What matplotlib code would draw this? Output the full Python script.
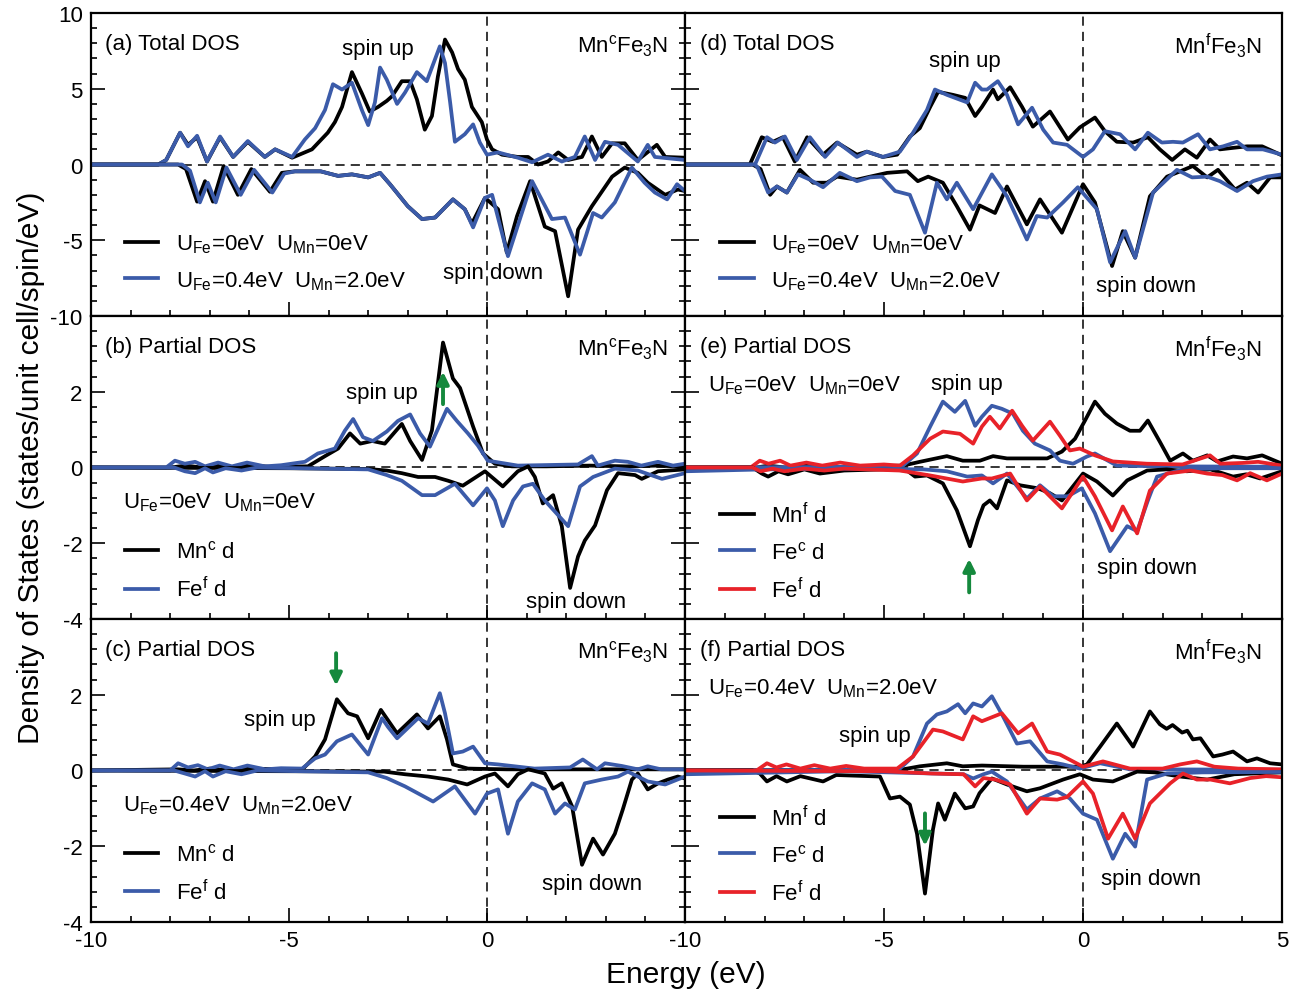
import numpy as np
import matplotlib
matplotlib.use('Agg')
import matplotlib.pyplot as plt
from matplotlib.ticker import MultipleLocator

plt.rcParams['font.family'] = ['Liberation Sans', 'DejaVu Sans']
plt.rcParams['mathtext.fontset'] = 'custom'
plt.rcParams['mathtext.rm'] = 'Liberation Sans'
plt.rcParams['mathtext.it'] = 'Liberation Sans:italic'
plt.rcParams['axes.unicode_minus'] = False

BLK = 'black'
BLU = '#3b5ba9'
RED = '#e82229'
GRN = '#15893d'

# ---- (a) total DOS, Mn^c Fe3N ----
a_up_k = [(-10,0),(-8.3,0),(-8.1,0.3),(-7.75,2.1),(-7.55,1.3),(-7.32,1.8),(-7.07,0.2),(-6.74,1.8),(-6.41,0.5),
          (-6.04,1.5),(-5.61,0.5),(-5.35,1.0),(-4.92,0.45),(-4.42,1.0),(-4.02,2.1),(-3.84,2.8),(-3.66,3.8),(-3.41,6.1),
          (-3.16,4.7),(-2.96,3.5),(-2.75,3.8),(-2.53,4.2),(-2.40,4.5),(-2.15,5.5),(-1.94,5.5),(-1.77,4.3),(-1.57,2.3),
          (-1.39,3.2),(-1.24,5.8),(-1.06,8.25),(-0.88,7.4),(-0.73,6.3),(-0.56,5.6),(-0.38,3.8),(-0.13,2.8),(0,1.65),
          (0.13,1.0),(0.38,0.65),(0.78,0.5),(1.04,0.5),(1.29,0.0),(1.54,0.2),(1.8,0.8),(2.05,0.3),(2.4,0.5),(2.65,1.85),
          (2.9,0.5),(3.16,1.4),(3.48,1.4),(3.81,0.3),(4.29,1.3),(4.5,0.5),(5.0,0.45)]
a_up_b = [(-10,0),(-8.3,0),(-8.1,0.3),(-7.75,2.1),(-7.55,1.2),(-7.32,1.9),(-7.07,0.2),(-6.74,1.85),(-6.41,0.5),
          (-6.04,1.55),(-5.61,0.5),(-5.35,1.0),(-4.92,0.5),(-4.6,1.65),(-4.34,2.4),(-4.09,3.6),(-3.89,5.3),(-3.66,4.95),
          (-3.41,5.4),(-3.16,3.6),(-3.0,2.6),(-2.83,4.1),(-2.70,6.4),(-2.53,5.6),(-2.27,4.0),(-2.07,4.75),(-1.77,6.1),
          (-1.52,5.5),(-1.19,7.8),(-1.06,6.7),(-0.93,4.1),(-0.81,1.5),(-0.56,2.0),(-0.35,2.65),(-0.18,1.45),(0,0.65),
          (0.28,0.8),(0.78,0.45),(1.14,0.15),(1.54,0.65),(1.89,0.2),(2.22,0.5),(2.47,1.85),(2.73,0.3),(2.98,1.5),
          (3.31,1.3),(3.81,0.2),(4.06,1.3),(4.24,0.5),(5.0,0.3)]
a_dn_k = [(-10,0),(-7.8,0),(-7.6,-0.3),(-7.32,-2.45),(-7.12,-1.1),(-6.92,-2.45),(-6.65,-0.1),(-6.29,-2.0),(-5.95,-0.3),
          (-5.48,-1.8),(-5.18,-0.55),(-4.85,-0.45),(-4.2,-0.45),(-3.76,-0.75),(-3.41,-0.65),(-3.0,-0.85),(-2.7,-0.55),
          (-2.45,-1.3),(-2.0,-2.75),(-1.64,-3.6),(-1.31,-3.5),(-0.86,-2.3),(-0.56,-2.95),(-0.38,-3.9),(-0.05,-2.2),
          (0.28,-2.95),(0.5,-5.8),(0.76,-3.4),(1.09,-1.1),(1.46,-4.1),(1.72,-4.4),(2.05,-8.7),(2.3,-4.3),(2.65,-2.75),
          (3.16,-0.8),(3.48,-0.2),(3.81,-0.55),(4.06,-1.2),(4.5,-2.0),(4.82,-1.65),(5.0,-1.75)]
a_dn_b = [(-10,0),(-7.7,0),(-7.5,-0.4),(-7.25,-2.5),(-7.05,-1.2),(-6.85,-2.5),(-6.58,-0.2),(-6.22,-2.0),(-5.88,-0.35),
          (-5.42,-1.85),(-5.12,-0.6),(-4.85,-0.45),(-4.2,-0.45),(-3.76,-0.75),(-3.41,-0.65),(-3.0,-0.85),(-2.7,-0.55),
          (-2.45,-1.3),(-2.0,-2.75),(-1.64,-3.6),(-1.31,-3.5),(-0.86,-2.3),(-0.56,-2.95),(-0.35,-4.15),(-0.05,-2.2),
          (0.13,-2.0),(0.53,-6.05),(1.14,-1.1),(1.64,-3.6),(1.97,-3.5),(2.35,-5.95),(2.68,-3.2),(2.9,-3.5),(3.23,-2.5),
          (3.66,-0.2),(3.98,-1.2),(4.24,-1.85),(4.55,-2.3),(4.8,-1.3),(5.0,-1.75)]

# ---- (d) total DOS, Mn^f Fe3N ----
d_up_k = [(-10,0),(-8.37,0),(-8.07,1.8),(-7.79,1.5),(-7.54,1.8),(-7.24,0.2),(-6.93,1.8),(-6.53,0.65),(-6.18,1.45),
          (-5.68,0.65),(-5.43,0.85),(-5.03,0.5),(-4.67,0.65),(-4.35,1.85),(-4.1,2.4),(-3.84,3.8),(-3.64,4.8),(-3.27,4.6),
          (-2.96,4.4),(-2.71,3.2),(-2.54,3.8),(-2.26,4.95),(-2.14,4.3),(-1.83,5.1),(-1.53,3.8),(-1.26,2.5),(-0.83,3.5),
          (-0.38,1.65),(-0.08,2.45),(0.3,3.1),(0.55,2.2),(0.85,1.5),(1.26,1.45),(1.63,1.8),(1.93,1.0),(2.24,0.3),
          (2.56,1.0),(2.86,0.45),(3.19,1.65),(3.44,1.0),(3.77,1.1),(4.12,1.2),(4.5,1.2),(5.0,0.6)]
d_up_b = [(-10,0),(-8.24,0),(-7.94,1.8),(-7.74,1.45),(-7.49,1.85),(-7.19,0.3),(-6.86,1.8),(-6.48,0.5),(-6.16,1.45),
          (-5.68,0.5),(-5.43,0.85),(-5.03,0.5),(-4.6,0.85),(-4.27,2.1),(-3.92,3.6),(-3.72,4.95),(-3.42,4.6),(-2.91,4.1),
          (-2.71,5.4),(-2.54,4.95),(-2.41,4.95),(-2.14,5.5),(-1.91,4.6),(-1.63,2.65),(-1.28,3.75),(-1.0,2.3),(-0.75,1.45),
          (-0.40,1.3),(0,0.5),(0.25,1.0),(0.55,2.2),(0.93,2.0),(1.31,1.0),(1.63,2.1),(1.98,1.45),(2.26,1.5),(2.51,1.45),
          (2.89,2.0),(3.19,1.0),(3.52,1.2),(3.87,1.5),(4.12,1.0),(4.52,1.0),(5.0,0.65)]
d_dn_k = [(-10,0),(-8.3,0),(-8.1,-0.3),(-7.86,-2.0),(-7.69,-1.45),(-7.44,-1.85),(-7.11,-0.35),(-6.78,-1.2),(-6.43,-1.2),
          (-6.18,-0.8),(-5.68,-1.0),(-5.35,-0.8),(-4.92,-0.55),(-4.42,-0.45),(-4.15,-1.1),(-3.89,-0.8),(-3.52,-1.2),
          (-3.17,-2.75),(-2.84,-4.3),(-2.6,-2.7),(-2.21,-3.2),(-1.91,-1.45),(-1.41,-3.95),(-1.08,-2.3),(-0.53,-4.5),
          (0,-1.3),(0.3,-2.5),(0.73,-6.7),(1.0,-4.4),(1.31,-6.15),(1.68,-2.1),(2.11,-0.8),(2.44,-0.45),(2.76,-0.1),
          (3.12,-0.85),(3.39,-0.35),(3.82,-1.65),(4.12,-1.2),(4.4,-1.85),(4.7,-0.85),(5.0,-0.85)]
d_dn_b = [(-10,0),(-8.24,0),(-8.17,-0.2),(-7.91,-1.85),(-7.69,-1.45),(-7.44,-1.85),(-7.16,-0.65),(-6.86,-1.0),(-6.53,-1.5),
          (-6.11,-0.55),(-5.68,-1.1),(-5.35,-0.85),(-5.05,-0.8),(-4.72,-1.75),(-4.35,-2.0),(-3.97,-4.5),(-3.67,-1.2),
          (-3.42,-2.3),(-3.17,-1.2),(-2.76,-2.95),(-2.29,-0.65),(-1.91,-2.1),(-1.41,-4.95),(-1.16,-3.4),(-0.9,-3.5),
          (-0.5,-2.5),(-0.13,-1.5),(0.35,-2.95),(0.68,-6.45),(1.06,-4.4),(1.31,-6.15),(1.76,-1.85),(2.36,-0.35),
          (2.74,-0.85),(3.12,-0.8),(3.44,-1.1),(3.87,-1.75),(4.27,-1.1),(4.62,-0.8),(5.0,-0.65)]

# ---- (b) partial DOS, Mn^c Fe3N, U=0 ----
b_up_k = [(-10,0),(-8,0),(-7.6,0.05),(-7.2,0.0),(-6.8,0.06),(-6.4,0.0),(-6.0,0.06),(-5.5,0.02),(-4.52,0.03),(-4.09,0.3),
          (-3.76,0.5),(-3.46,0.9),(-3.2,0.63),(-2.9,0.7),(-2.58,0.63),(-2.15,1.15),(-1.94,0.7),(-1.64,0.2),(-1.39,0.98),
          (-1.11,3.3),(-0.86,2.35),(-0.68,2.1),(-0.35,1.08),(-0.1,0.37),(0.2,0.1),(0.63,0.03),(1.5,0.03),(2.6,0.05),
          (3.5,0.03),(4.3,0.05),(5,0.02)]
b_up_b = [(-10,0),(-8.1,0),(-7.88,0.18),(-7.63,0.1),(-7.37,0.15),(-7.12,0.03),(-6.79,0.13),(-6.44,0.03),(-6.06,0.13),
          (-5.61,0.03),(-5.2,0.06),(-4.6,0.15),(-4.27,0.37),(-3.84,0.5),(-3.59,0.97),(-3.38,1.28),(-3.13,0.8),(-2.88,0.7),
          (-2.53,0.95),(-2.25,1.23),(-1.94,1.4),(-1.69,0.9),(-1.44,0.55),(-1.01,1.55),(-0.76,1.23),(-0.48,0.9),
          (-0.23,0.58),(0.02,0.18),(0.78,0.05),(2.3,0.08),(2.65,0.3),(2.8,0.05),(3.23,0.18),(3.56,0.15),(3.9,0.05),
          (4.32,0.15),(4.7,0.05),(5.0,0.1)]
b_dn_k = [(-10,0),(-5,-0.02),(-3,-0.04),(-2.53,-0.08),(-2.15,-0.15),(-1.74,-0.25),(-1.31,-0.25),(-0.98,-0.35),
          (-0.61,-0.48),(-0.05,-0.1),(0.4,-0.5),(0.78,-0.1),(1.04,0.03),(1.21,-0.25),(1.41,-0.95),(1.67,-0.73),
          (1.89,-1.55),(2.1,-3.18),(2.3,-2.35),(2.47,-1.93),(2.73,-1.53),(3.03,-0.6),(3.31,-0.15),(3.74,-0.2),
          (3.91,-0.3),(4.32,-0.1),(5.0,-0.05)]
b_dn_b = [(-10,0),(-7.9,0),(-7.63,-0.1),(-7.37,-0.15),(-7.12,-0.02),(-6.92,-0.13),(-6.6,-0.02),(-6.2,-0.08),(-5.8,0),
          (-3,-0.05),(-2.53,-0.2),(-2.15,-0.35),(-1.64,-0.73),(-1.31,-0.73),(-0.81,-0.43),(-0.35,-1.0),(0,-0.55),
          (0.2,-0.87),(0.4,-1.55),(0.66,-0.87),(0.91,-0.5),(1.16,-0.43),(1.46,-0.87),(2.05,-1.55),(2.35,-0.5),
          (2.68,-0.25),(3.23,-0.03),(3.81,-0.08),(4.42,-0.3),(5.0,-0.15)]

# ---- (c) partial DOS, Mn^c Fe3N, U on ----
c_up_k = [(-10,0),(-7.8,0.03),(-7.4,0.0),(-7.0,0.05),(-6.5,0.0),(-6.0,0.05),(-4.67,0.02),(-4.34,0.37),(-4.09,0.82),
          (-3.79,1.88),(-3.51,1.51),(-3.28,1.43),(-3.0,0.85),(-2.68,1.6),(-2.27,0.98),(-1.77,1.48),(-1.49,1.11),
          (-1.19,1.43),(-1.01,0.82),(-0.86,0.16),(-0.48,0.05),(0.5,0.03),(2,0.03),(5,0.03)]
c_up_b = [(-10,0),(-8.0,0),(-7.8,0.19),(-7.55,0.08),(-7.3,0.14),(-7.05,0.03),(-6.75,0.13),(-6.4,0.03),(-6.05,0.13),
          (-5.6,0.03),(-5.2,0.06),(-4.67,0.05),(-4.34,0.32),(-4.09,0.42),(-3.79,0.77),(-3.41,0.95),(-3.0,0.42),
          (-2.65,1.38),(-2.5,1.15),(-2.27,0.85),(-1.74,1.38),(-1.49,1.24),(-1.19,2.04),(-1.06,1.51),(-0.86,0.45),
          (-0.61,0.5),(-0.35,0.63),(-0.05,0.19),(0.28,0.16),(1.2,0.05),(2.1,0.08),(2.42,0.29),(2.78,0.03),(2.98,0.19),
          (3.4,0.12),(3.81,0.03),(4.06,0.11),(4.4,0.03),(5.0,0.03)]
c_dn_k = [(-10,0),(-5,-0.02),(-2.6,-0.03),(-2.07,-0.1),(-1.49,-0.16),(-0.98,-0.24),(-0.5,-0.37),(-0.05,-0.16),
          (0.2,-0.08),(0.53,-0.42),(0.78,-0.1),(1.04,0.03),(1.46,-0.08),(1.67,-0.48),(1.89,-0.34),(2.15,-0.95),
          (2.4,-2.49),(2.68,-1.8),(2.93,-2.22),(3.23,-1.67),(3.43,-1.03),(3.66,-0.24),(3.81,-0.08),(4.06,-0.5),
          (4.32,-0.34),(4.57,-0.24),(4.82,-0.16),(5.0,-0.21)]
c_dn_b = [(-10,0),(-7.9,0),(-7.63,-0.08),(-7.37,-0.16),(-7.12,-0.02),(-6.92,-0.16),(-6.6,-0.02),(-6.2,-0.1),(-5.8,0),
          (-3,-0.05),(-2.53,-0.2),(-2.07,-0.42),(-1.36,-0.82),(-0.81,-0.42),(-0.3,-1.14),(0,-0.61),(0.28,-0.5),
          (0.53,-1.67),(0.78,-0.82),(1.14,-0.34),(1.46,-0.5),(1.72,-1.14),(1.97,-0.87),(2.22,-1.03),(2.47,-0.34),
          (2.9,-0.24),(3.31,-0.16),(3.56,-0.03),(4.06,-0.29),(4.5,-0.37),(5.0,-0.16)]

# ---- (e) partial DOS, Mn^f Fe3N, U=0 ----
e_up_k = [(-10,0),(-8.2,0),(-7.9,0.05),(-7.5,0.0),(-7.0,0.05),(-6.5,0.0),(-5.5,0.03),(-4.52,0.05),(-4.1,0.15),
          (-3.42,0.3),(-3.02,0.18),(-2.59,0.18),(-2.26,0.3),(-1.91,0.24),(-1.33,0.24),(-0.9,0.24),(-0.53,0.42),
          (-0.2,0.76),(0.05,1.24),(0.3,1.74),(0.55,1.42),(0.85,1.16),(1.18,0.97),(1.43,0.97),(1.63,1.24),(1.93,0.68),
          (2.19,0.18),(2.51,0.37),(2.76,0.18),(3.12,0.32),(3.37,0.16),(3.77,0.29),(4.12,0.24),(4.5,0.32),(5.0,0.1)]
e_up_b = [(-10,0),(-4.8,0.02),(-4.52,0.05),(-4.17,0.37),(-3.84,1.08),(-3.52,1.74),(-3.22,1.47),(-2.96,1.76),
          (-2.71,1.1),(-2.54,1.34),(-2.29,1.63),(-2.04,1.55),(-1.76,1.42),(-1.51,0.97),(-1.21,0.63),(-0.83,0.45),
          (-0.58,0.18),(-0.25,0.1),(0.1,0.29),(0.3,0.37),(0.85,0.05),(2,0.03),(5,0.02)]
e_up_r = [(-10,0),(-8.35,0),(-8.12,0.18),(-7.9,0.1),(-7.61,0.18),(-7.35,0.05),(-6.95,0.13),(-6.55,0.05),(-6.1,0.13),
          (-5.6,0.05),(-5.0,0.08),(-4.6,0.05),(-4.27,0.32),(-3.84,0.76),(-3.52,0.95),(-3.09,0.89),(-2.76,0.63),
          (-2.54,1.08),(-2.34,1.34),(-2.09,1.03),(-1.78,1.5),(-1.53,1.1),(-1.26,0.71),(-0.83,1.21),(-0.58,0.84),
          (-0.33,0.45),(-0.08,0.5),(0.3,0.32),(0.75,0.16),(1.6,0.1),(2.5,0.08),(3.19,0.32),(3.45,0.1),(4.0,0.12),
          (4.4,0.15),(5.0,0.05)]
e_dn_k = [(-10,0),(-8.3,0),(-8.07,-0.16),(-7.91,-0.24),(-7.65,-0.1),(-7.41,-0.18),(-7.0,-0.05),(-6.61,-0.16),
          (-6.0,-0.08),(-5.0,-0.05),(-4.42,-0.08),(-4.22,-0.24),(-3.92,-0.21),(-3.52,-0.42),(-3.17,-1.13),(-2.84,-2.08),
          (-2.64,-1.39),(-2.5,-1.0),(-2.34,-0.87),(-2.16,-1.08),(-1.91,-0.34),(-1.58,-0.47),(-1.13,-0.55),(-0.83,-0.68),
          (-0.53,-0.87),(0,-0.16),(0.35,-0.37),(0.75,-0.74),(1.11,-0.34),(1.61,-0.08),(2.1,-0.05),(2.61,-0.1),
          (3.2,-0.05),(3.77,-0.24),(4.1,-0.18),(4.45,-0.29),(5.0,-0.1)]
e_dn_b = [(-10,-0.1),(-8.0,-0.05),(-6,-0.03),(-4,-0.05),(-3.42,-0.1),(-2.91,-0.24),(-2.54,-0.21),(-2.26,-0.42),
          (-1.91,-0.16),(-1.41,-0.82),(-1.08,-0.47),(-0.75,-0.76),(-0.38,-0.76),(-0.03,-0.55),(0.3,-1.21),(0.68,-2.21),
          (1.11,-1.55),(1.36,-1.68),(1.63,-0.87),(1.86,-0.24),(2.5,-0.05),(3.5,-0.02),(5,-0.02)]
e_dn_r = [(-10,0),(-8.3,0),(-8.1,-0.1),(-7.8,-0.03),(-7.5,-0.1),(-7.0,-0.03),(-6.5,-0.08),(-6.0,-0.03),(-4.6,-0.08),
          (-3.84,-0.21),(-3.02,-0.37),(-2.54,-0.29),(-2.29,-0.29),(-1.83,-0.16),(-1.41,-0.87),(-1.08,-0.5),(-0.53,-1.08),
          (0,-0.24),(0.3,-0.76),(0.73,-1.66),(1.0,-1.03),(1.36,-1.74),(1.68,-0.61),(2.11,-0.16),(2.7,-0.08),
          (3.12,-0.16),(3.5,-0.2),(3.87,-0.34),(4.2,-0.15),(4.62,-0.34),(5.0,-0.16)]

# ---- (f) partial DOS, Mn^f Fe3N, U on ----
f_up_k = [(-10,0),(-5,0.02),(-4.52,0.03),(-4.1,0.11),(-3.42,0.19),(-3.02,0.11),(-2.54,0.13),(-1.5,0.1),(-0.08,0.1),
          (0.1,0.16),(0.43,0.63),(0.85,1.24),(1.26,0.63),(1.68,1.56),(1.93,1.22),(2.1,1.1),(2.25,1.2),(2.49,1.0),
          (2.62,1.05),(2.76,0.82),(2.95,0.85),(3.27,0.37),(3.5,0.42),(3.77,0.5),(4.12,0.24),(4.37,0.32),(4.7,0.19),
          (5.0,0.16)]
f_up_b = [(-10,0),(-4.8,0.02),(-4.6,0.05),(-4.27,0.37),(-3.92,1.24),(-3.67,1.48),(-3.42,1.56),(-3.14,1.75),
          (-2.96,1.51),(-2.76,1.77),(-2.54,1.69),(-2.29,1.96),(-2.01,1.43),(-1.66,0.71),(-1.33,0.77),(-0.9,0.24),
          (-0.5,0.16),(-0.08,0.05),(0.43,0.19),(1.18,0.03),(5.0,0.02)]
f_up_r = [(-10,0),(-8.2,0),(-7.94,0.19),(-7.7,0.08),(-7.45,0.16),(-7.1,0.05),(-6.75,0.14),(-6.35,0.05),(-5.95,0.12),
          (-5.5,0.05),(-4.67,0.05),(-4.27,0.37),(-3.77,1.08),(-3.52,1.03),(-3.02,0.82),(-2.76,1.43),(-2.54,1.3),
          (-2.04,1.51),(-1.63,0.98),(-1.28,1.24),(-0.9,0.5),(-0.58,0.42),(0,0.1),(0.5,0.24),(1.18,0.05),(2.0,0.05),
          (2.44,0.16),(2.86,0.24),(3.3,0.1),(3.9,0.05),(5.0,0.03)]
f_dn_k = [(-10,0),(-8.3,0),(-8.12,-0.08),(-7.94,-0.29),(-7.7,-0.15),(-7.44,-0.29),(-7.1,-0.15),(-6.53,-0.29),
          (-6.2,-0.12),(-5.1,-0.16),(-4.85,-0.74),(-4.6,-0.69),(-4.35,-0.9),(-4.17,-1.67),(-3.97,-3.25),(-3.77,-1.56),
          (-3.64,-0.87),(-3.47,-1.3),(-3.22,-0.61),(-2.96,-1.0),(-2.76,-0.95),(-2.6,-0.6),(-2.29,-0.21),(-1.91,-0.37),
          (-1.41,-0.55),(-1.08,-0.47),(-0.5,-0.24),(-0.08,-0.1),(0.25,-0.24),(0.75,-0.29),(1.36,-0.03),(1.8,-0.05),
          (2.44,-0.16),(3.12,-0.24),(3.8,-0.1),(5.0,-0.05)]
f_dn_b = [(-10,-0.1),(-6,-0.02),(-3,-0.1),(-2.76,-0.21),(-2.5,-0.1),(-2.29,-0.03),(-1.91,-0.29),(-1.41,-1.03),
          (-1.08,-0.74),(-0.65,-0.55),(-0.33,-0.74),(0,-1.14),(0.35,-1.3),(0.75,-2.33),(1.06,-1.67),(1.31,-2.01),
          (1.61,-0.24),(2.11,-0.08),(3,-0.05),(5,-0.04)]
f_dn_r = [(-10,0),(-5,-0.02),(-3.8,-0.08),(-3.0,-0.1),(-2.71,-0.42),(-2.5,-0.2),(-2.2,-0.24),(-1.83,-0.37),
          (-1.41,-1.14),(-1.08,-0.74),(-0.65,-0.77),(-0.4,-0.7),(0,-0.29),(0.25,-0.61),(0.63,-1.8),(1.0,-1.14),
          (1.31,-1.8),(1.68,-0.87),(2.19,-0.34),(2.51,-0.08),(2.86,-0.24),(3.2,-0.24),(3.69,-0.34),(4.2,-0.2),
          (4.6,-0.15),(5.0,-0.18)]

lab_u0 = r'U$_{\rm Fe}$=0eV  U$_{\rm Mn}$=0eV'
lab_u1 = r'U$_{\rm Fe}$=0.4eV  U$_{\rm Mn}$=2.0eV'
mnc = r'Mn$^{\rm c}$Fe$_{\rm 3}$N'
mnf = r'Mn$^{\rm f}$Fe$_{\rm 3}$N'
FS = 16
LW = 2.7


def curve(ax, pts, color, label=None):
    e = [p[0] for p in pts]
    v = [p[1] for p in pts]
    return ax.plot(e, v, color=color, lw=LW, label=label, solid_joinstyle='round')[0]


def style(ax, big, left_col, bottom_row):
    ax.set_xlim(-10, 5)
    if big:
        ax.set_ylim(-10, 10)
        ax.yaxis.set_major_locator(MultipleLocator(5))
        ax.yaxis.set_minor_locator(MultipleLocator(1))
    else:
        ax.set_ylim(-4, 4)
        ax.yaxis.set_major_locator(MultipleLocator(2))
        ax.yaxis.set_minor_locator(MultipleLocator(0.4))
    ax.xaxis.set_major_locator(MultipleLocator(5))
    ax.xaxis.set_minor_locator(MultipleLocator(1))
    ax.tick_params(which='both', direction='in', right=left_col, top=False, width=1.2,
                   labelsize=FS, labelleft=left_col, labelbottom=bottom_row, pad=6)
    ax.tick_params(which='major', length=10)
    ax.tick_params(which='minor', length=4.5)
    for s in ax.spines.values():
        s.set_linewidth(1.6)
    ax.axhline(0, color='black', lw=1.1, ls=(0, (6, 4)), zorder=1)
    ax.axvline(0, color='black', lw=1.1, ls=(0, (6, 4)), zorder=1)


def legend(ax, handles, x, y):
    ax.legend(handles=handles, loc='center left', bbox_to_anchor=(x, y), frameon=False, fontsize=FS,
              handlelength=1.5, handletextpad=0.8, labelspacing=0.62, borderpad=0, borderaxespad=0)


fig = plt.figure(figsize=(12.98, 9.95), dpi=100)
x0, xm, x1 = 0.0701, 0.5277, 0.9877
rows = [0.6814, 0.3769, 0.0724]
h = 0.3045
axs = {}
for r, yb in enumerate(rows):
    axs[(r, 0)] = fig.add_axes([x0, yb, xm - x0, h])
    axs[(r, 1)] = fig.add_axes([xm, yb, x1 - xm, h])

# (a)
ax = axs[(0, 0)]
style(ax, True, True, False)
h1 = curve(ax, a_up_k, BLK, lab_u0)
h2 = curve(ax, a_up_b, BLU, lab_u1)
curve(ax, a_dn_k, BLK)
curve(ax, a_dn_b, BLU)
ax.set_yticks([-10, -5, 0, 5, 10])
ax.text(0.024, 0.90, '(a) Total DOS', transform=ax.transAxes, fontsize=FS, va='center')
ax.text(0.971, 0.895, mnc, transform=ax.transAxes, fontsize=FS, va='center', ha='right')
ax.text(-2.75, 7.66, 'spin up', fontsize=FS, ha='center', va='center')
ax.text(0.15, -7.13, 'spin down', fontsize=FS, ha='center', va='center')
legend(ax, [h1, h2], 0.057, 0.177)

# (d)
ax = axs[(0, 1)]
style(ax, True, False, False)
h1 = curve(ax, d_up_k, BLK, lab_u0)
h2 = curve(ax, d_up_b, BLU, lab_u1)
curve(ax, d_dn_k, BLK)
curve(ax, d_dn_b, BLU)
ax.text(0.025, 0.90, '(d) Total DOS', transform=ax.transAxes, fontsize=FS, va='center')
ax.text(0.966, 0.895, mnf, transform=ax.transAxes, fontsize=FS, va='center', ha='right')
ax.text(-2.96, 6.86, 'spin up', fontsize=FS, ha='center', va='center')
ax.text(1.58, -7.99, 'spin down', fontsize=FS, ha='center', va='center')
legend(ax, [h1, h2], 0.059, 0.177)

# (b) and (c)
for r, up_k, up_b, dn_k, dn_b, tag, ulab, su, sd, arr in [
        (1, b_up_k, b_up_b, b_dn_k, b_dn_b, '(b) Partial DOS', lab_u0, (-2.65, 1.97), (2.25, -3.55),
         (-1.11, 1.6, 2.6)),
        (2, c_up_k, c_up_b, c_dn_k, c_dn_b, '(c) Partial DOS', lab_u1, (-5.23, 1.35), (2.65, -2.99),
         (-3.81, 3.17, 2.17))]:
    ax = axs[(r, 0)]
    style(ax, False, True, r == 2)
    h1 = curve(ax, up_k, BLK, r'Mn$^{\rm c}$ d')
    h2 = curve(ax, up_b, BLU, r'Fe$^{\rm f}$ d')
    curve(ax, dn_k, BLK)
    curve(ax, dn_b, BLU)
    ax.set_yticks([-4, -2, 0, 2])
    ax.text(0.024, 0.90, tag, transform=ax.transAxes, fontsize=FS, va='center')
    ax.text(0.971, 0.895, mnc, transform=ax.transAxes, fontsize=FS, va='center', ha='right')
    ax.text(0.054, 0.386, ulab, transform=ax.transAxes, fontsize=FS, va='center')
    ax.text(su[0], su[1], 'spin up', fontsize=FS, ha='center', va='center')
    ax.text(sd[0], sd[1], 'spin down', fontsize=FS, ha='center', va='center')
    ax.annotate('', xy=(arr[0], arr[2]), xytext=(arr[0], arr[1]),
                arrowprops=dict(arrowstyle='-|>,head_width=0.35,head_length=0.7', color=GRN, lw=2.8))
    legend(ax, [h1, h2], 0.057, 0.159)

# (e) and (f)
for r, up_k, up_b, up_r, dn_k, dn_b, dn_r, tag, ulab, su, sd, arr in [
        (1, e_up_k, e_up_b, e_up_r, e_dn_k, e_dn_b, e_dn_r, '(e) Partial DOS', lab_u0, (-2.91, 2.21),
         (1.61, -2.63), (-2.86, -3.37, -2.34)),
        (2, f_up_k, f_up_b, f_up_r, f_dn_k, f_dn_b, f_dn_r, '(f) Partial DOS', lab_u1, (-5.23, 0.93),
         (1.71, -2.86), (-3.97, -1.06, -2.06))]:
    ax = axs[(r, 1)]
    style(ax, False, False, r == 2)
    h1 = curve(ax, up_k, BLK, r'Mn$^{\rm f}$ d')
    h2 = curve(ax, up_b, BLU, r'Fe$^{\rm c}$ d')
    h3 = curve(ax, up_r, RED, r'Fe$^{\rm f}$ d')
    curve(ax, dn_k, BLK)
    curve(ax, dn_b, BLU)
    curve(ax, dn_r, RED)
    ax.text(0.025, 0.90, tag, transform=ax.transAxes, fontsize=FS, va='center')
    ax.text(0.966, 0.895, mnf, transform=ax.transAxes, fontsize=FS, va='center', ha='right')
    ax.text(0.039, 0.774, ulab, transform=ax.transAxes, fontsize=FS, va='center')
    ax.text(su[0], su[1], 'spin up', fontsize=FS, ha='center', va='center')
    ax.text(sd[0], sd[1], 'spin down', fontsize=FS, ha='center', va='center')
    ax.annotate('', xy=(arr[0], arr[2]), xytext=(arr[0], arr[1]),
                arrowprops=dict(arrowstyle='-|>,head_width=0.35,head_length=0.7', color=GRN, lw=2.8))
    legend(ax, [h1, h2, h3], 0.059, 0.221)

axs[(2, 0)].set_xticks([-10, -5, 0])
axs[(2, 1)].set_xticks([-10, -5, 0, 5])
axs[(2, 0)].xaxis.set_minor_locator(MultipleLocator(1))

fig.text(0.0235, 0.53, 'Density of States (states/unit cell/spin/eV)', rotation=90, fontsize=21.5,
         ha='center', va='center')
fig.text(0.5285, 0.02, 'Energy (eV)', fontsize=21.5, ha='center', va='center')

fig.savefig('out.png', dpi=100)
